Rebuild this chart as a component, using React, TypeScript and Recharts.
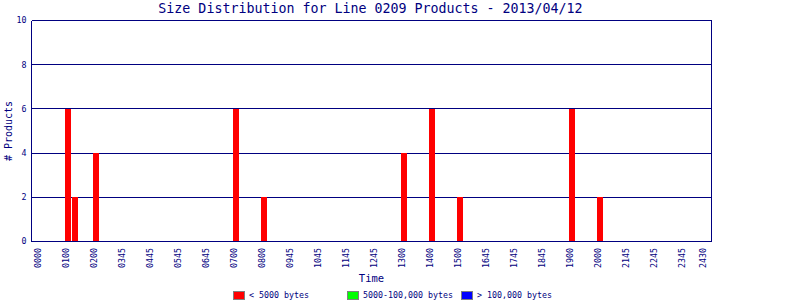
import React from 'react';
import { BarChart, Bar, XAxis, YAxis, CartesianGrid } from 'recharts';

const NAVY = '#000080';
const MONO = '"DejaVu Sans Mono", "Liberation Mono", monospace';

// 15-minute slots across the day, named HHMM
const slots: string[] = [];
for (let h = 0; h < 24; h++) {
  for (let m = 0; m < 60; m += 15) {
    slots.push(String(h).padStart(2, '0') + String(m).padStart(2, '0'));
  }
}

// slots that had products, and their counts per size class
const activeSlots = ['0100', '0115', '0200', '0700', '0800', '1300', '1400', '1500', '1900', '2000'];
const smallCounts = [6, 2, 4, 6, 2, 4, 6, 2, 6, 2];
const mediumCounts = [0, 0, 0, 0, 0, 0, 0, 0, 0, 0];
const largeCounts = [0, 0, 0, 0, 0, 0, 0, 0, 0, 0];

// where the x labels sit, and what they say
const tickSlots = [
  '0000', '0100', '0200', '0300', '0400', '0500', '0600', '0700', '0800', '0900', '1000', '1100',
  '1200', '1300', '1400', '1500', '1600', '1700', '1800', '1900', '2000', '2100', '2200', '2300', '2345',
];
const tickLabels = [
  '0000', '0100', '0200', '0345', '0445', '0545', '0645', '0700', '0800', '0945', '1045', '1145',
  '1245', '1300', '1400', '1500', '1645', '1745', '1845', '1900', '2000', '2145', '2245', '2345', '2430',
];
const yTicks = [0, 2, 4, 6, 8, 10];

const legendItems = [
  { label: '< 5000 bytes', color: '#ff0000' },
  { label: '5000-100,000 bytes', color: '#00ff00' },
  { label: '> 100,000 bytes', color: '#0000ff' },
];

const data = slots.map((slot) => {
  const i = activeSlots.indexOf(slot);
  return {
    slot,
    small: i >= 0 ? smallCounts[i] : 0,
    medium: i >= 0 ? mediumCounts[i] : 0,
    large: i >= 0 ? largeCounts[i] : 0,
  };
});

function TimeTick({ x, y, payload }: any) {
  const label = tickLabels[tickSlots.indexOf(payload.value)];
  const tx = x - 1;
  const ty = y + 6.5;
  return (
    <text
      x={tx}
      y={ty}
      transform={`rotate(-90 ${tx} ${ty})`}
      textAnchor="end"
      dominantBaseline="central"
      fill={NAVY}
      fontFamily={MONO}
      fontSize={8.3}
    >
      {label}
    </text>
  );
}

export default function App() {
  return (
    <div style={{ position: 'absolute', left: 0, top: 0, width: 800, height: 300, background: '#fff' }}>
      <div
        style={{
          position: 'absolute',
          left: 0,
          top: 0.5,
          width: 741,
          textAlign: 'center',
          fontFamily: MONO,
          fontSize: 13.3,
          lineHeight: '16px',
          color: NAVY,
        }}
      >
        Size Distribution for Line 0209 Products - 2013/04/12
      </div>

      <BarChart
        width={800}
        height={300}
        data={data}
        margin={{ top: 20.5, right: 88.5, bottom: 0, left: 0 }}
      >
        <XAxis
          dataKey="slot"
          ticks={tickSlots}
          interval={0}
          tick={TimeTick}
          tickLine={false}
          tickSize={0}
          tickMargin={0}
          height={58.5}
          padding={{ left: 4, right: 4 }}
          axisLine={{ stroke: NAVY, shapeRendering: 'crispEdges' }}
          label={{
            value: 'Time',
            position: 'insideBottom',
            offset: 18,
            fill: NAVY,
            fontFamily: MONO,
            fontSize: 10.5,
          }}
        />
        <YAxis
          domain={[0, 10]}
          ticks={yTicks}
          width={31.5}
          tickLine={false}
          tickSize={5}
          tickMargin={0}
          axisLine={{ stroke: NAVY, shapeRendering: 'crispEdges' }}
          tick={{ fill: NAVY, fontSize: 8.3, fontFamily: MONO }}
          label={{
            content: () => (
              <text
                x={8}
                y={131}
                transform="rotate(-90 8 131)"
                textAnchor="middle"
                dominantBaseline="central"
                fill={NAVY}
                fontFamily={MONO}
                fontSize={10}
              >
                # Products
              </text>
            ),
          }}
        />
        <Bar dataKey="small" stackId="a" fill="#ff0000" barSize={6} shapeRendering="crispEdges" isAnimationActive={false} />
        <Bar dataKey="medium" stackId="a" fill="#00ff00" barSize={6} shapeRendering="crispEdges" isAnimationActive={false} />
        <Bar dataKey="large" stackId="a" fill="#0000ff" barSize={6} shapeRendering="crispEdges" isAnimationActive={false} />
        <CartesianGrid stroke={NAVY} shapeRendering="crispEdges" vertical verticalPoints={[711.5]} />
      </BarChart>

      {legendItems.map((item, i) => (
        <div
          key={item.label}
          style={{
            position: 'absolute',
            left: 233 + i * 114,
            top: 290,
            height: 10,
            display: 'flex',
            alignItems: 'center',
            fontFamily: MONO,
            fontSize: 8.3,
            color: NAVY,
            whiteSpace: 'nowrap',
          }}
        >
          <span
            style={{
              display: 'inline-block',
              boxSizing: 'border-box',
              width: 12,
              height: 9,
              background: item.color,
              border: '1px solid #808080',
              marginRight: 4,
            }}
          />
          {item.label}
        </div>
      ))}
    </div>
  );
}
